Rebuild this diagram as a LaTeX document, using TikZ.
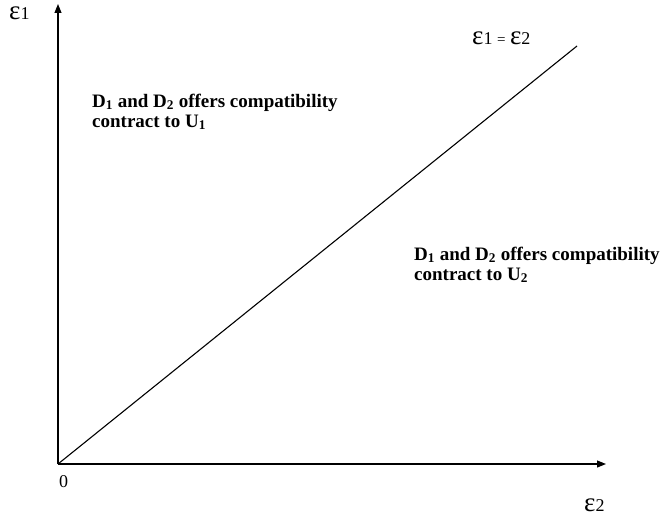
\documentclass[tikz,border=0pt]{standalone}
\usepackage{fontspec}
\setmainfont{Liberation Serif}
\usetikzlibrary{arrows.meta}
\tikzset{
  axis/.style={line width=1.1pt,-{Triangle[length=9pt,width=7pt]}},
  diag/.style={line width=1.1pt},
  region/.style={font=\fontsize{19}{20}\selectfont\bfseries,align=left,anchor=base west,inner sep=0pt},
  eps/.style={font=\fontsize{27}{30}\selectfont,anchor=base west,inner sep=0pt},
}
\newcommand{\epsub}[1]{{\fontsize{18}{20}\selectfont #1}}
\begin{document}
\begin{tikzpicture}[x=1pt,y=-1pt]
\useasboundingbox (0,0) rectangle (661,519);
\coordinate (O) at (58,464);
\coordinate (Ytip) at (58,4);
\coordinate (Xtip) at (606,464);
\coordinate (Dend) at (577,46);
\draw[axis] (O) -- (Ytip);
\draw[axis] (O) -- (Xtip);
\draw[diag] (O) -- (Dend);
\node[eps] (e1) at (9,20) {ε\epsub{1}};
\node[eps] (e2) at (584,511) {ε\epsub{2}};
\node[eps] (eq) at (472,45) {ε\epsub{1}\,{\fontsize{15}{16}\selectfont =}\,ε\epsub{2}};
\node[font=\fontsize{18}{20}\selectfont,anchor=base west,inner sep=0pt] (zero) at (59,487) {0};
\node[region] (r1) at (92,127) {D\textsubscript{1} and D\textsubscript{2} offers compatibility\\contract to U\textsubscript{1}};
\node[region] (r2) at (414,280) {D\textsubscript{1} and D\textsubscript{2} offers compatibility\\contract to U\textsubscript{2}};
\end{tikzpicture}
\end{document}
